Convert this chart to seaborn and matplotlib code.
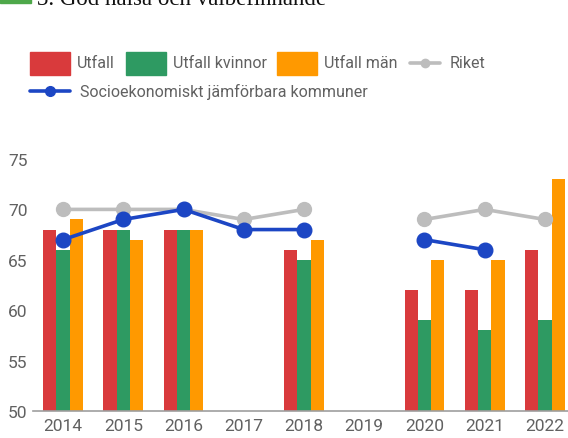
import numpy as np
import pandas as pd
import seaborn as sns
import matplotlib.pyplot as plt
from matplotlib.patches import Rectangle
from matplotlib.lines import Line2D

# data
years = ["2014", "2015", "2016", "2017", "2018", "2019", "2020", "2021", "2022"]
utfall = [68, 68, 68, np.nan, 66, np.nan, 62, 62, 66]
utfall_kvinnor = [66, 68, 68, np.nan, 65, np.nan, 59, 58, 59]
utfall_man = [69, 67, 68, np.nan, 67, np.nan, 65, 65, 73]
riket = [70, 70, 70, 69, 70, np.nan, 69, 70, 69]
socio = [67, 69, 70, 68, 68, np.nan, 67, 66, np.nan]

serier = ["Utfall", "Utfall kvinnor", "Utfall män"]
farger = ["#D93A3C", "#2E9A62", "#FF9900"]
gra = "#BDBDBD"
bla = "#1C46C4"
textfarg = "#616161"

df = pd.DataFrame({
    "år": years * 3,
    "serie": np.repeat(serier, len(years)),
    "värde": utfall + utfall_kvinnor + utfall_man,
})

sns.set_theme(style="white")
plt.rcParams["font.family"] = ["Roboto", "DejaVu Sans"]

W, H = 568, 439
fig = plt.figure(figsize=(W / 100, H / 100), dpi=100)
# axes in pixel terms: left 33, right 575 (cropped), baseline y=412, 75 at y=160
ax = fig.add_axes([33 / W, (H - 412) / H, (575 - 33) / W, (412 - 160) / H])

sns.barplot(data=df, x="år", y="värde", hue="serie", palette=farger,
            width=0.66, gap=0, saturation=1, legend=False, ax=ax,
            linewidth=0, edgecolor="none", order=years, hue_order=serier)

# lines (NaN breaks the line, as in the chart)
x = np.arange(len(years))
ax.plot(x, riket, color=gra, lw=2.6, marker="o", ms=10, clip_on=False, zorder=4)
ax.plot(x, socio, color=bla, lw=2.6, marker="o", ms=10.5, clip_on=False, zorder=5)

ax.set_ylim(50, 75)
ax.set_xlim(-0.5, 8.5)
ax.set_yticks([50, 55, 60, 65, 70, 75])
ax.set_xlabel("")
ax.set_ylabel("")
ax.tick_params(axis="both", length=0, colors=textfarg, labelsize=12.5)
ax.tick_params(axis="x", pad=5)
ax.tick_params(axis="y", pad=4)
for s in ["top", "right", "left"]:
    ax.spines[s].set_visible(False)
ax.spines["bottom"].set_color("#9E9E9E")
ax.spines["bottom"].set_linewidth(1.2)
ax.grid(False)

# legend drawn by hand, in pixel positions
def fx(px):
    return px / W

def fy(py):
    return 1 - py / H

def ruta(x0, farg, text, rad_y):
    fig.patches.append(Rectangle((fx(x0), fy(rad_y + 11.5)), fx(40), 23 / H,
                                 transform=fig.transFigure, color=farg))
    fig.text(fx(x0 + 47), fy(rad_y), text, color=textfarg, fontsize=11.5,
             va="center", ha="left")

def linje(x0, x1, farg, text, rad_y, ms):
    fig.lines.append(Line2D([fx(x0), fx(x1)], [fy(rad_y), fy(rad_y)],
                            transform=fig.transFigure, color=farg, lw=2.6))
    fig.lines.append(Line2D([fx((x0 + x1) / 2)], [fy(rad_y)], marker="o", ms=ms,
                            transform=fig.transFigure, color=farg))
    fig.text(fx(x1 + 10), fy(rad_y), text, color=textfarg, fontsize=11.5,
             va="center", ha="left")

ruta(30, farger[0], "Utfall", 64)
ruta(126, farger[1], "Utfall kvinnor", 64)
ruta(277, farger[2], "Utfall män", 64)
linje(410, 440, gra, "Riket", 64, 6)
linje(30, 70, bla, "Socioekonomiskt jämförbara kommuner", 92, 7)

# cropped heading at the very top
fig.patches.append(Rectangle((0, fy(4)), fx(31), 20 / H,
                             transform=fig.transFigure, color="#4EA84A"))
fig.text(fx(37), fy(5), "3. God hälsa och välbefinnande", color="#111111",
         fontsize=16.5, family=["Liberation Serif", "DejaVu Serif"],
         va="baseline", ha="left")

fig.savefig("out.png", dpi=100)
